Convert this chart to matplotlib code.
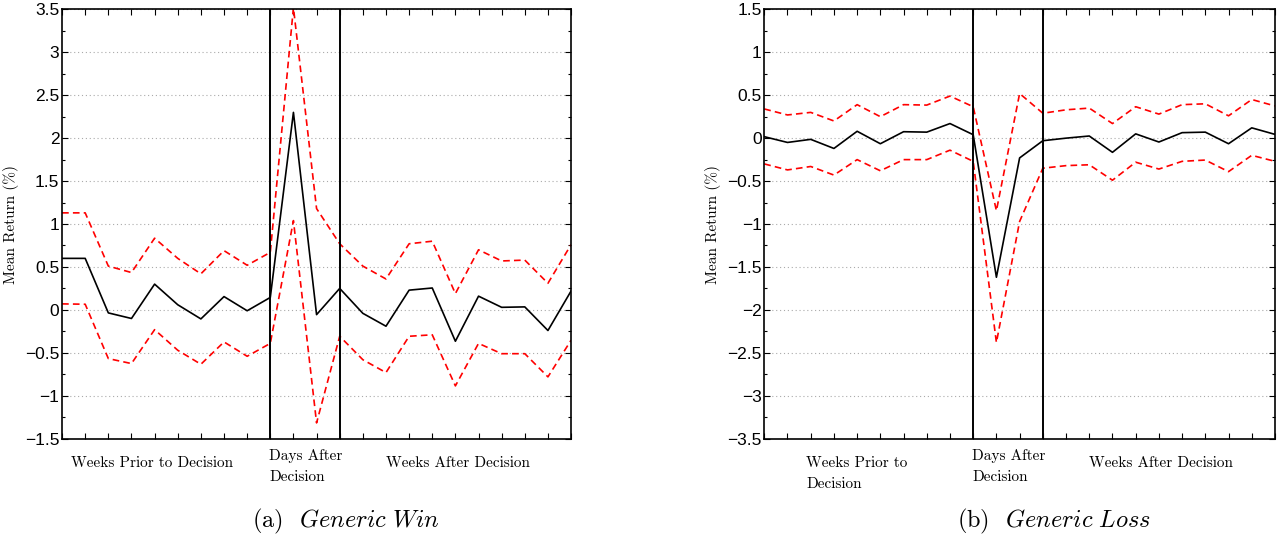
import matplotlib
matplotlib.use("Agg")
import matplotlib.pyplot as plt
from matplotlib.ticker import MultipleLocator, NullFormatter, FuncFormatter
import numpy as np

# --- Data ---
periods = list(range(23))  # 9 weeks prior, 3 days after, 11 weeks after
day_start, day_end = 9, 12

win_mean = [0.60, 0.60, -0.035, -0.10, 0.30, 0.06, -0.105, 0.155, -0.01, 0.145,
            2.30, -0.055, 0.25, -0.04, -0.19, 0.23, 0.255, -0.365, 0.16, 0.03,
            0.035, -0.24, 0.22]
win_upper = [1.13, 1.13, 0.51, 0.435, 0.835, 0.60, 0.42, 0.69, 0.52, 0.67,
             3.52, 1.18, 0.77, 0.51, 0.36, 0.77, 0.80, 0.19, 0.70, 0.57,
             0.58, 0.31, 0.76]
win_lower = [0.07, 0.066, -0.567, -0.625, -0.23, -0.47, -0.633, -0.373, -0.54, -0.39,
             1.04, -1.316, -0.307, -0.58, -0.73, -0.307, -0.29, -0.885, -0.39, -0.51,
             -0.51, -0.78, -0.353]

loss_mean = [0.017, -0.05, -0.014, -0.12, 0.08, -0.065, 0.075, 0.07, 0.17, 0.04,
             -1.62, -0.23, -0.03, 0.0, 0.025, -0.165, 0.05, -0.045, 0.064, 0.07,
             -0.065, 0.12, 0.044]
loss_upper = [0.34, 0.27, 0.30, 0.20, 0.39, 0.25, 0.39, 0.385, 0.49, 0.366,
              -0.845, 0.52, 0.29, 0.33, 0.35, 0.17, 0.366, 0.28, 0.39, 0.40,
              0.26, 0.45, 0.375]
loss_lower = [-0.30, -0.37, -0.33, -0.43, -0.25, -0.38, -0.25, -0.25, -0.14, -0.27,
              -2.38, -0.97, -0.35, -0.32, -0.31, -0.49, -0.28, -0.36, -0.27, -0.255,
              -0.39, -0.20, -0.27]

SERIF = "cmr10"
plt.rcParams["mathtext.fontset"] = "cm"
plt.rcParams["axes.formatter.use_mathtext"] = False


def fmt(v, pos):
    s = "%g" % round(v, 2)
    return s.replace("-", "\u2212")


def draw_panel(ax, mean, upper, lower, ylim, prior_label, caption, caption_x):
    ax.plot(periods, upper, color="red", linestyle=(0, (4, 2.5)), linewidth=1.2)
    ax.plot(periods, lower, color="red", linestyle=(0, (4, 2.5)), linewidth=1.2)
    ax.plot(periods, mean, color="black", linewidth=1.2)
    ax.axvline(day_start, color="black", linewidth=1.4)
    ax.axvline(day_end, color="black", linewidth=1.4)

    ax.set_xlim(periods[0], periods[-1])
    ax.set_ylim(*ylim)
    ax.set_xticks(periods)
    ax.xaxis.set_major_formatter(NullFormatter())
    ax.yaxis.set_major_locator(MultipleLocator(0.5))
    ax.yaxis.set_minor_locator(MultipleLocator(0.25))
    ax.yaxis.set_major_formatter(FuncFormatter(fmt))
    ax.tick_params(axis="both", which="major", direction="in", length=4,
                   width=0.8, top=True, right=True, pad=2,
                   labelsize=12.5, labelfontfamily="Liberation Sans")
    ax.tick_params(axis="y", which="minor", direction="in", length=2.5,
                   width=0.8, right=True)
    ax.yaxis.grid(True, which="major", linestyle=(0, (1, 2.5)), color="#aaaaaa",
                  linewidth=0.8)
    for sp in ax.spines.values():
        sp.set_linewidth(1.2)
    ax.set_ylabel("Mean Return (%)", fontfamily=SERIF, fontsize=11, labelpad=4)

    trans = ax.get_xaxis_transform()
    ax.text(prior_label[0], -0.042, prior_label[1], transform=trans,
            ha=prior_label[2], va="top", fontfamily=SERIF, fontsize=11,
            linespacing=1.6)
    ax.text(day_start - 0.05, -0.025, "Days After\nDecision", transform=trans,
            ha="left", va="top", fontfamily=SERIF, fontsize=11, linespacing=1.6)
    ax.text(17.1, -0.042, "Weeks After Decision", transform=trans,
            ha="center", va="top", fontfamily=SERIF, fontsize=11)

    fig = ax.figure
    fig.text(caption_x, 0.045, caption, ha="center", va="center",
             fontfamily=SERIF, fontsize=17.5)


fig = plt.figure(figsize=(12.77, 5.46), dpi=100)
ax1 = fig.add_axes([0.0486, 0.1965, 0.3986, 0.7864])
ax2 = fig.add_axes([0.5985, 0.1965, 0.3999, 0.7864])

draw_panel(ax1, win_mean, win_upper, win_lower, (-1.5, 3.5),
           (3.9, "Weeks Prior to Decision", "center"),
           r"(a)  $\mathit{Generic\ Win}$", 346 / 1277)
draw_panel(ax2, loss_mean, loss_upper, loss_lower, (-3.5, 1.5),
           (1.8, "Weeks Prior to\nDecision", "left"),
           r"(b)  $\mathit{Generic\ Loss}$", 1054 / 1277)

fig.savefig("out.png", dpi=100)
